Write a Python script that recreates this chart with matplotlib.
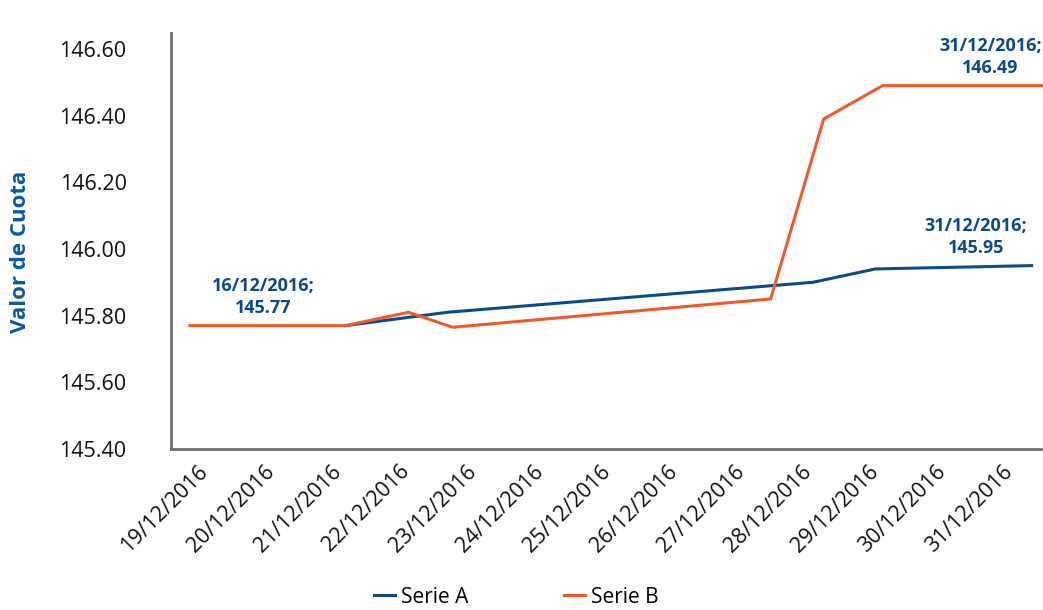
import matplotlib
matplotlib.use("Agg")
import matplotlib.pyplot as plt

# category labels on the x axis (one per trading day shown)
dates = ["19/12/2016", "20/12/2016", "21/12/2016", "22/12/2016", "23/12/2016",
         "24/12/2016", "25/12/2016", "26/12/2016", "27/12/2016", "28/12/2016",
         "29/12/2016", "30/12/2016", "31/12/2016"]

# series positions are given in category units (0 = first label)
serie_a_x = [2.10, 3.62, 9.07, 10.00, 12.33]
serie_a_y = [145.77, 145.81, 145.90, 145.94, 145.95]

serie_b_x = [-0.22, 2.10, 3.04, 3.70, 8.44, 9.23, 10.11, 12.48]
serie_b_y = [145.77, 145.77, 145.81, 145.765, 145.85, 146.39, 146.49, 146.49]

yticks = [145.40, 145.60, 145.80, 146.00, 146.20, 146.40, 146.60]

# data labels: (series, point index, date text)
labels = [("b", 0, "16/12/2016"), ("a", -1, "31/12/2016"), ("b", -1, "31/12/2016")]

BLUE = "#0b4a8b"
ORANGE = "#f15a29"
LABEL_BLUE = "#0d58a3"
GREY = "#6e6e6e"

plt.rcParams["font.family"] = ["Open Sans", "DejaVu Sans"]

fig = plt.figure(figsize=(10.43, 6.10), dpi=100)
ax = fig.add_axes([0.164, 0.264, 0.836, 0.682])

ax.plot(serie_a_x, serie_a_y, color=BLUE, lw=2.2, label="Serie A", solid_joinstyle="miter")
ax.plot(serie_b_x, serie_b_y, color=ORANGE, lw=2.2, label="Serie B", solid_joinstyle="miter")

ax.set_xlim(-0.5, 12.5)
ax.set_ylim(145.40, 146.648)
ax.set_yticks(yticks)
ax.set_yticklabels([f"{v:.2f}" for v in yticks])
ax.set_xticks(range(len(dates)))
ax.set_xticklabels(dates, rotation=45, ha="right", va="center", rotation_mode="anchor")

ax.tick_params(axis="both", length=0, labelsize=15.5, colors="#111111")
ax.tick_params(axis="y", pad=32)
ax.tick_params(axis="x", pad=14)

for side in ["top", "right"]:
    ax.spines[side].set_visible(False)
for side in ["left", "bottom"]:
    ax.spines[side].set_color(GREY)
    ax.spines[side].set_linewidth(2)

ax.set_ylabel("Valor de Cuota", color=LABEL_BLUE, fontsize=16, fontweight="bold")
ax.yaxis.set_label_coords(-0.161, 0.474)

series = {"a": (serie_a_x, serie_a_y), "b": (serie_b_x, serie_b_y)}
offsets = {("b", 0): (53, 6), ("a", -1): (-40, 6), ("b", -1): (-37, 6)}
for key, idx, day in labels:
    xs, ys = series[key]
    ax.annotate(f"{day};\n{ys[idx]:.2f}", xy=(xs[idx], ys[idx]),
                xytext=offsets[(key, idx)], textcoords="offset points",
                ha="center", va="bottom", color=BLUE, fontsize=13,
                fontweight="bold", linespacing=1.3, annotation_clip=False)

fig.legend(loc="lower center", bbox_to_anchor=(0.495, -0.027), ncol=2, frameon=False,
           fontsize=15, handlelength=1.0, handletextpad=0.3, columnspacing=4.6)

fig.savefig("out.png", dpi=100)
